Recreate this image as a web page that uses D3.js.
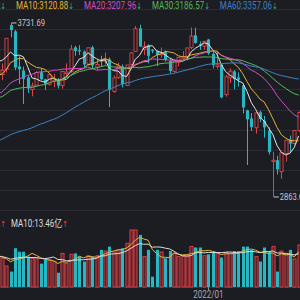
<!DOCTYPE html>
<html>
<head>
<meta charset="utf-8">
<script src="https://cdn.jsdelivr.net/npm/d3@7"></script>
<style>
  body { margin: 0; background: #1c1d22; }
  svg { display: block; }
</style>
</head>
<body>
<svg id="chart" width="300" height="300"></svg>
<script>
// weekly candles, 2021/01/29 .. 2022/06/10
const weeks = ["2021/01/29","2021/02/05","2021/02/10","2021/02/19","2021/02/26","2021/03/05","2021/03/12","2021/03/19","2021/03/26","2021/04/02",
  "2021/04/09","2021/04/16","2021/04/23","2021/04/30","2021/05/07","2021/05/14","2021/05/21","2021/05/28","2021/06/04","2021/06/11",
  "2021/06/18","2021/06/25","2021/07/02","2021/07/09","2021/07/16","2021/07/23","2021/07/30","2021/08/06","2021/08/13","2021/08/20",
  "2021/08/27","2021/09/03","2021/09/10","2021/09/17","2021/09/24","2021/09/30","2021/10/08","2021/10/15","2021/10/22","2021/10/29",
  "2021/11/05","2021/11/12","2021/11/19","2021/11/26","2021/12/03","2021/12/10","2021/12/17","2021/12/24","2021/12/31","2022/01/07",
  "2022/01/14","2022/01/21","2022/01/28","2022/02/11","2022/02/18","2022/02/25","2022/03/04","2022/03/11","2022/03/18","2022/03/25",
  "2022/04/01","2022/04/08","2022/04/15","2022/04/22","2022/04/29","2022/05/06","2022/05/13","2022/05/20","2022/05/27","2022/06/02",
  "2022/06/10"];
const opens = [3604,3474,3502,3721,3690,3515,3494,3460,3400,3421,
  3486,3451,3426,3440,3445,3420,3480,3490,3610,3596,
  3590,3526,3610,3510,3545,3540,3550,3390,3460,3515,
  3420,3525,3590,3705,3600,3620,3598,3590,3573,3586,
  3542,3490,3535,3555,3562,3610,3670,3627,3616,3649,
  3577,3515,3524,3374,3458,3490,3460,3420,3296,3256,
  3209,3286,3244,3195,3040,3047,2990,3080,3150,3130,
  3195];
const highs = [3612,3530,3656,3731.69,3697,3566,3514,3470,3434,3491,
  3503,3453,3481,3478,3457,3491,3530,3622,3618,3621,
  3594,3608,3618,3547,3568,3584,3560,3470,3533,3525,
  3522,3587,3716,3723,3640,3625,3601,3594,3609,3595,
  3556,3541,3562,3591,3608,3709,3708,3640,3643,3652,
  3596,3584,3525,3473,3505,3496,3485,3424,3299,3282,
  3286,3294,3268,3211,3089,3069,3088,3147,3170,3196,
  3290];
const lows = [3446,3446,3484,3660,3496,3427,3328,3383,3366,3416,
  3446,3397,3419,3411,3405,3404,3466,3483,3568,3572,
  3510,3519,3501,3497,3514,3524,3312,3383,3452,3410,
  3420,3510,3590,3612,3572,3530,3581,3516,3559,3539,
  3480,3484,3515,3549,3544,3601,3629,3597,3600,3573,
  3505,3504,3356,3364,3432,3401,3414,3280,3023,3193,
  3180,3237,3160,3075,2863.65,2976,2955,3040,3083,3126,
  3188];
const closes = [3483,3496,3655,3696,3509,3502,3453,3405,3418,3484,
  3451,3427,3474,3447,3419,3490,3487,3601,3592,3590,
  3525,3608,3519,3524,3539,3550,3397,3458,3517,3427,
  3522,3582,3703,3614,3613,3568,3592,3572,3583,3547,
  3492,3539,3560,3564,3607,3666,3632,3618,3640,3580,
  3521,3523,3361,3463,3491,3451,3448,3310,3251,3212,
  3283,3252,3211,3087,3047,3002,3084,3147,3130,3195,
  3285];
// volume, 亿
const volumes = [14,12.3,9,6.6,16.6,15.1,15.1,13,12.3,12.3,
  10,11.6,11.6,10.9,6.1,14.4,10,14,14.4,13,
  10.9,13.4,13,13.4,15.9,15.4,17.3,15,15.9,16.6,
  18.7,24.4,24.4,22.3,13,15.9,4.4,15.9,15,12.3,
  15.4,14.4,13,13.5,13,17.3,16.9,16.9,13.4,14,
  15.1,14.4,12.6,14.9,14.4,15.4,15.4,17.3,17.3,15.9,
  13,10.9,16.9,15,17.3,6.6,15.4,14.4,15.9,12,
  18];
// weeks before the window, only used for the moving averages
const priorCloses = [2912,2968,3005,3005,3083,3092,3075,2977,2875,2917,3039,2880,3034,2887,2745,2772,2764,2796,2838,2809,
  2860,2895,2868,2813,2852,2930,2920,2967,2979,3152,3383,3214,3196,3310,3354,3360,3380,3403,3355,3260,
  3338,3219,3218,3272,3336,3278,3225,3312,3310,3377,3408,3444,3347,3394,3397,3473,3570,3566,3606];
const priorVolumes = [13,12,14,13,12,13,14,13,12];

const maPeriods = [5, 10, 20, 30, 60];
const maColors = ["#e4e4e4", "#e2b43a", "#cf4fc6", "#58b85c", "#3d82c4"];
const maLegend = ["MA5:3081.52", "MA10:3120.88", "MA20:3207.96", "MA30:3186.57", "MA60:3357.06"];
const volMaPeriods = [5, 10];
const volMaColors = ["#e2b43a", "#dcdcdc"];
const volLegend = ["MA5:15.02亿", "MA10:13.46亿"];
const priceGrid = d3.range(2800, 3801, 100);
const xTickLabel = "2022/01";

const upColor = "#e2434a", downColor = "#27b6c2", bg = "#1c1d22";
const svg = d3.select("#chart");
const W = 300;
const font = "Roboto, 'Noto Sans CJK SC', sans-serif";
const arrowFont = "'DejaVu Sans', sans-serif";
const sx = 0.8; // the app uses a narrow face

// x: candle centres
const x = d3.scaleLinear().domain([3, 70]).range([10.5, 298.6]);
const step = x(1) - x(0);
const bw = step * 0.72;
const y = d3.scaleLinear().domain([2800, 3800]).range([209.75, 9.25]);
const yv = d3.scaleLinear().domain([0, 25]).range([287, 228.6]);

// grid
svg.append("g").selectAll("line").data(priceGrid).join("line")
  .attr("x1", 0).attr("x2", W)
  .attr("y1", d => Math.round(y(d)) + 0.5).attr("y2", d => Math.round(y(d)) + 0.5)
  .attr("stroke", "#2c2d34").attr("stroke-width", 1);
svg.append("line").attr("x1", 0).attr("x2", W).attr("y1", 287.5).attr("y2", 287.5)
  .attr("stroke", "#34353d");

function ma(values, n) {
  return values.map((v, i) => i < n - 1 ? null : d3.mean(values.slice(i - n + 1, i + 1)));
}
const allCloses = priorCloses.concat(closes);
const line = d3.line().defined(d => d[1] != null).x(d => x(d[0])).y(d => y(d[1]));
const idx = weeks.map((w, i) => i);
const isUp = i => closes[i] >= opens[i];

// candles
const candles = svg.append("g").selectAll("g").data(idx).join("g");
candles.append("line")
  .attr("x1", i => Math.round(x(i)) + 0.5).attr("x2", i => Math.round(x(i)) + 0.5)
  .attr("y1", i => y(highs[i])).attr("y2", i => y(lows[i]))
  .attr("stroke", i => isUp(i) ? upColor : downColor);
candles.append("rect")
  .attr("x", i => Math.round(x(i)) + 0.5 - bw / 2)
  .attr("width", bw)
  .attr("y", i => y(Math.max(opens[i], closes[i])))
  .attr("height", i => Math.max(1, Math.abs(y(opens[i]) - y(closes[i]))))
  .attr("fill", i => isUp(i) ? bg : downColor)
  .attr("stroke", i => isUp(i) ? upColor : downColor)
  .attr("stroke-width", i => isUp(i) ? 0.9 : 0);

// moving averages
maPeriods.forEach((n, j) => {
  const m = ma(allCloses, n).slice(priorCloses.length);
  svg.append("path").datum(m.map((v, i) => [i, v]))
    .attr("d", line).attr("fill", "none")
    .attr("stroke", maColors[j]).attr("stroke-width", 1);
});

// narrow text helper: returns the drawn width
function narrowText(px, py, parts, size) {
  const g = svg.append("g").attr("transform", `translate(${px},${py}) scale(${sx},1)`);
  const t = g.append("text").attr("font-size", size).attr("font-family", font);
  parts.forEach(p => {
    const s = t.append("tspan").attr("fill", p[1]).text(p[0]);
    if (p[2]) s.attr("font-family", arrowFont).attr("font-size", size * 0.85);
  });
  return { g, t, w: t.node().getComputedTextLength() * sx };
}

// high / low labels
const hi = d3.maxIndex(highs), lo = d3.minIndex(lows);
function extremeLabel(i, v) {
  const xx = x(i) + 1, yy = y(v);
  svg.append("line").attr("x1", xx).attr("x2", xx + 5).attr("y1", yy).attr("y2", yy)
    .attr("stroke", "#c8c8c8");
  narrowText(xx + 6, yy + 3, [[d3.format(".2f")(v), "#c8c8c8"]], 9.5);
}
extremeLabel(hi, highs[hi]);
extremeLabel(lo, lows[lo]);

// legend of the price panel, MA10 item starts at x=16
function legendRow(texts, colors, arrow, arrowColor, py, startX, gap) {
  const items = texts.map((t, j) => narrowText(0, py, [[t, colors[j]], [arrow, arrowColor, true]], 10));
  let lx = startX - items[0].w - gap;
  items.forEach(it => { it.g.attr("transform", `translate(${lx},${py}) scale(${sx},1)`); lx += it.w + gap; });
}
legendRow(maLegend, maColors, "↓", "#2ebd6b", 9, 16, 10);

// volume
svg.append("g").selectAll("rect").data(idx).join("rect")
  .attr("x", i => Math.round(x(i)) + 0.5 - bw / 2)
  .attr("width", bw)
  .attr("y", i => yv(volumes[i]))
  .attr("height", i => yv(0) - yv(volumes[i]))
  .attr("fill", i => isUp(i) ? "#5a2328" : downColor)
  .attr("stroke", i => isUp(i) ? upColor : "none")
  .attr("stroke-width", 0.9);

const allVol = priorVolumes.concat(volumes);
const vline = d3.line().defined(d => d[1] != null).x(d => x(d[0])).y(d => yv(d[1]));
volMaPeriods.forEach((n, j) => {
  const m = ma(allVol, n).slice(priorVolumes.length);
  svg.append("path").datum(m.map((v, i) => [i, v]))
    .attr("d", vline).attr("fill", "none")
    .attr("stroke", volMaColors[j]).attr("stroke-width", 1);
});

legendRow(volLegend, volMaColors, "↑", upColor, 227, 11, 5);

// time axis
const ti = weeks.indexOf("2022/01/07");
svg.append("line").attr("x1", Math.round(x(ti)) + 0.5).attr("x2", Math.round(x(ti)) + 0.5)
  .attr("y1", 287).attr("y2", 290).attr("stroke", "#8a8b90");
const lab = narrowText(0, 298, [[xTickLabel, "#a6a7ad"]], 10);
lab.g.attr("transform", `translate(${x(ti) - lab.w / 2},298) scale(${sx},1)`);
</script>
</body>
</html>
